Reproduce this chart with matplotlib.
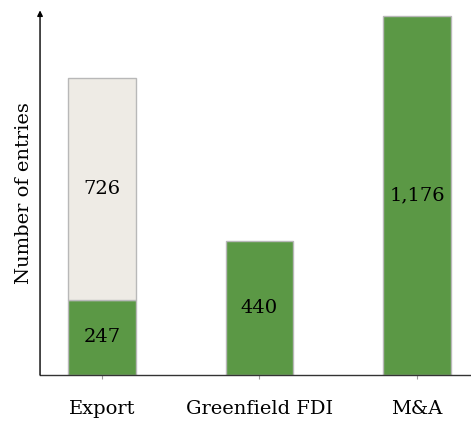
import numpy as np
import matplotlib.pyplot as plt

categories = ['Export', 'Greenfield FDI', 'M&A']
matched = [247, 440, 1176]
unmatched = [726, 0, 0]

green = '#5b9845'
grey = '#eeebe5'
edge = '#b8b8b8'

plt.rcParams['font.family'] = ['DejaVu Serif']

fig = plt.figure(figsize=(4.71, 4.23), dpi=100)
ax = fig.add_axes([0.085, 0.1135, 0.915, 0.862])

x = np.arange(len(categories))
b1 = ax.bar(x, matched, width=0.43, color=green, edgecolor=edge, linewidth=1)
b2 = ax.bar(x[:1], unmatched[:1], bottom=matched[:1], width=0.43,
            color=grey, edgecolor=edge, linewidth=1)

ax.bar_label(b1, labels=[f'{v:,}' for v in matched], label_type='center', fontsize=14)
ax.bar_label(b2, labels=[f'{v:,}' for v in unmatched[:1]], label_type='center', fontsize=14)

ax.set_xlim(-0.393, 2.343)
ax.set_ylim(0, 1195)
ax.set_xticks(x)
ax.set_xticklabels(categories, fontsize=14)
ax.tick_params(axis='x', length=3, color='#999999', pad=15)
ax.set_yticks([])
ax.set_ylabel('Number of entries', fontsize=14, labelpad=5)

for s in ['top', 'right', 'left']:
    ax.spines[s].set_visible(False)
ax.spines['bottom'].set_color('#333333')
ax.spines['bottom'].set_linewidth(1)

# y axis with an arrow head
ax.annotate('', xy=(0, 1.0), xytext=(0, 0), xycoords='axes fraction',
            arrowprops=dict(arrowstyle='-|>', color='black', lw=1,
                            mutation_scale=8, shrinkA=0, shrinkB=0))

fig.savefig('out.png', dpi=100)
